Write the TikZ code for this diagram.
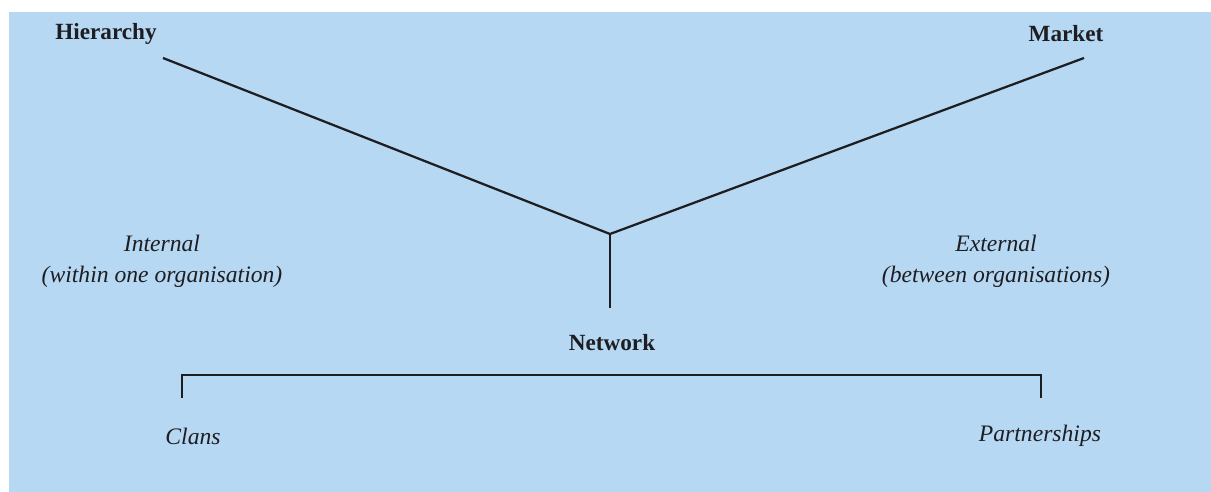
\documentclass[tikz,border=0pt]{standalone}
\usepackage{fontspec}
\setmainfont{Liberation Serif}
\definecolor{bgblue}{RGB}{182,216,242}
\definecolor{ink}{RGB}{30,30,34}
\begin{document}
\begin{tikzpicture}[x=0.025cm,y=-0.025cm,
  head/.style={font=\fontsize{16.5}{18}\selectfont\bfseries, text=ink, inner sep=0pt},
  lab/.style={font=\fontsize{16.8}{22}\selectfont\itshape, text=ink, inner sep=0pt, align=center},
  conn/.style={draw=ink, line width=1.6pt}]
\useasboundingbox (0,0) rectangle (1211,492);
\fill[white] (0,0) rectangle (1211,492);
\fill[bgblue] (9,12) rectangle (1211,492);
\node[head] (hier) at (106,34) {Hierarchy};
\node[head] (mark) at (1066,34) {Market};
\node[head] (net) at (612,343) {Network};
\coordinate (h1) at (163,58);
\coordinate (m1) at (1084,58);
\coordinate (j) at (610,234);
\coordinate (j2) at (610,308);
\draw[conn] (h1) -- (j) -- (m1);
\draw[conn] (j) -- (j2);
\coordinate (bl) at (182,398);
\coordinate (br) at (1041,398);
\draw[conn] (bl) -- (182,375) -- (1041,375) -- (br);
\node[lab] (int) at (162,261) {Internal\\(within one organisation)};
\node[lab] (ext) at (996,261) {External\\(between organisations)};
\node[lab] (clans) at (193,436) {Clans};
\node[lab] (part) at (1040,436) {Partnerships};
\end{tikzpicture}
\end{document}
